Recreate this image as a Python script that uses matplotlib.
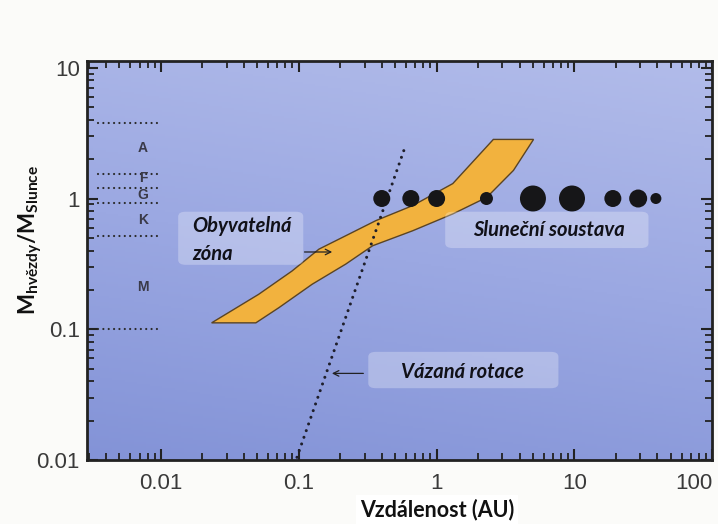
import numpy as np
import matplotlib.pyplot as plt
from matplotlib.colors import LinearSegmentedColormap
from matplotlib.patches import FancyBboxPatch
from matplotlib.ticker import LogLocator, FixedLocator, FixedFormatter, NullFormatter

plt.rcParams['mathtext.fontset'] = 'custom'
plt.rcParams['mathtext.bf'] = 'Lato:bold'
plt.rcParams['mathtext.rm'] = 'Lato'

# spectral class boundaries (stellar mass) and letters
class_bounds = [3.8, 1.55, 1.2, 0.92, 0.52, 0.1]
class_names = ['A', 'F', 'G', 'K', 'M']
class_label_y = [2.43, 1.43, 1.07, 0.68, 0.21]

# habitable zone outline (AU, stellar mass)
hz_upper_x = [0.0233, 0.0511, 0.0893, 0.140, 0.219, 0.363, 0.671, 1.31, 2.58]
hz_upper_y = [0.112, 0.185, 0.279, 0.410, 0.519, 0.678, 0.883, 1.30, 2.83]
hz_lower_x = [0.0488, 0.0715, 0.125, 0.219, 0.343, 0.671, 1.31, 2.31, 3.61, 5.05]
hz_lower_y = [0.112, 0.146, 0.221, 0.315, 0.435, 0.567, 0.762, 1.02, 1.64, 2.83]

# tidal locking limit, end points
tidal_x = [0.097, 0.58]
tidal_y = [0.0105, 2.35]

# solar system planets
planet_a = [0.40, 0.65, 1.0, 2.3, 5.0, 9.6, 19.0, 29.0, 39.0]
planet_m = [1, 1, 1, 1, 1, 1, 1, 1, 1]
planet_px = [17, 17, 17, 13, 26, 26, 17, 18, 11]

xticks = [0.01, 0.1, 1, 10, 100]
xticklabels = ['0.01', '0.1', '1', '10', '100']
yticks = [0.01, 0.1, 1, 10]
yticklabels = ['0.01', '0.1', '1', '10']

fig = plt.figure(figsize=(7.18, 5.24), dpi=100, facecolor='#fbfbf9')
ax = fig.add_axes([0.121, 0.122, 0.871, 0.762])
ax.set_xscale('log')
ax.set_yscale('log')
ax.set_xlim(0.0029, 100)
ax.set_ylim(0.01, 11.3)

# blue background gradient
gy, gx = np.mgrid[0:1:200j, 0:1:200j]
grad = 0.8 * gy + 0.2 * gx
ax.imshow(grad, extent=[0, 1, 0, 1], transform=ax.transAxes, origin='lower',
          cmap=LinearSegmentedColormap.from_list('bg', ['#8393d7', '#9ba8e2', '#b2bcea']),
          aspect='auto', zorder=0)

# spectral classes
for b in class_bounds:
    ax.plot([0.0035, 0.0095], [b, b], color='#2a2a2a', lw=1.6,
            linestyle=(0, (0.01, 2.4)), dash_capstyle='round', zorder=2)
for name, yy in zip(class_names, class_label_y):
    ax.text(0.0074, yy, name, color='#3a3a48', fontsize=10, fontweight='bold',
            ha='center', va='center', family='Liberation Sans', zorder=2)

# habitable zone
poly_x = hz_upper_x + hz_lower_x[::-1]
poly_y = hz_upper_y + hz_lower_y[::-1]
ax.fill(poly_x, poly_y, facecolor='#f2b23e', edgecolor='#5a4424', lw=1.0, zorder=3)

# tidal locking
ax.plot(tidal_x, tidal_y, color='#1e1e2a', lw=2.2, linestyle=(0, (0.01, 2.3)),
        dash_capstyle='round', zorder=4)

# planets
sizes = [(d * 0.72) ** 2 for d in planet_px]
ax.scatter(planet_a, planet_m, s=sizes, color='#161618', zorder=5, linewidths=0)

# label boxes
for x0, x1, y0, y1 in [(0.146, 0.346, 0.489, 0.622), (0.573, 0.898, 0.531, 0.622),
                       (0.450, 0.754, 0.180, 0.271)]:
    ax.add_patch(FancyBboxPatch((x0, y0), x1 - x0, y1 - y0, transform=ax.transAxes,
                                boxstyle='round,pad=0,rounding_size=0.012',
                                fc='white', ec='none', alpha=0.28, zorder=6))

lab = dict(fontsize=14.5, fontweight='bold', fontstyle='italic', family='Lato',
           color='#111118', zorder=7, transform=ax.transAxes)
ax.text(0.168, 0.551, 'Obyvatelná\nzóna', ha='left', va='center', linespacing=1.45, **lab)
ax.text(0.738, 0.576, 'Sluneční soustava', ha='center', va='center', **lab)
ax.text(0.601, 0.221, 'Vázaná rotace', ha='center', va='center', **lab)

ax.annotate('', xy=(0.183, 0.39), xytext=(0.105, 0.39),
            arrowprops=dict(arrowstyle='->', color='#222222', lw=0.9), zorder=7)
ax.annotate('', xy=(0.166, 0.046), xytext=(0.308, 0.046),
            arrowprops=dict(arrowstyle='->', color='#222222', lw=0.9), zorder=7)

# axes, ticks
ax.xaxis.set_major_locator(FixedLocator(xticks))
ax.xaxis.set_major_formatter(FixedFormatter(xticklabels))
ax.yaxis.set_major_locator(FixedLocator(yticks))
ax.yaxis.set_major_formatter(FixedFormatter(yticklabels))
ax.xaxis.set_minor_locator(LogLocator(base=10, subs=np.arange(2, 10), numticks=20))
ax.yaxis.set_minor_locator(LogLocator(base=10, subs=np.arange(2, 10), numticks=20))
ax.xaxis.set_minor_formatter(NullFormatter())
ax.yaxis.set_minor_formatter(NullFormatter())
ax.tick_params(which='both', direction='in', top=True, right=True, color='#222222',
               labelsize=16, labelcolor='#3a3a3a')
ax.tick_params(axis='x', pad=9)
ax.tick_params(axis='y', pad=5)
ax.tick_params(which='major', length=8, width=1.5)
ax.tick_params(which='minor', length=5, width=1.3)
for lbl in ax.get_xticklabels() + ax.get_yticklabels():
    lbl.set_family('Liberation Sans')
ax.get_xticklabels()[-1].set_horizontalalignment('right')
for s in ax.spines.values():
    s.set_linewidth(2)
    s.set_color('#222222')

ax.set_xlabel('Vzdálenost (AU)', fontsize=15.5, fontweight='bold', family='Lato',
              color='#111111', va='center', bbox=dict(fc='white', ec='none', pad=3))
ax.xaxis.set_label_coords(0.56, -0.125)
ax.set_ylabel(r'$\mathbf{M_{hvězdy}/M_{Slunce}}$', fontsize=16, color='#111111',
              va='center')
ax.yaxis.set_label_coords(-0.091, 0.551)

fig.savefig('out.png', dpi=100, facecolor=fig.get_facecolor())
